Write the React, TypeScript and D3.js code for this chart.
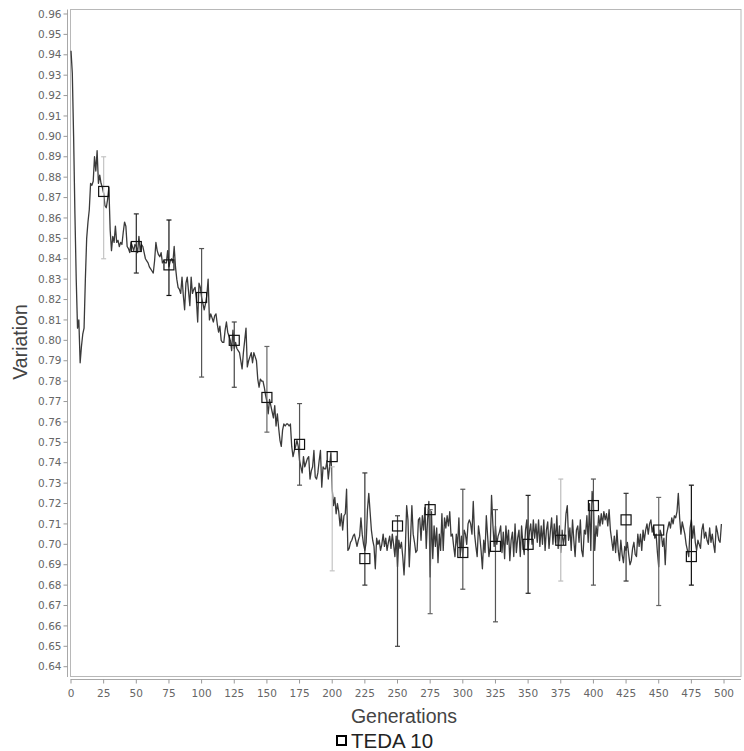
import React from "react";
import * as d3 from "d3";

// Mean variation per generation (index = generation)
const variation: number[] = [
  0.942, 0.931, 0.900, 0.862, 0.830, 0.806, 0.810, 0.789, 0.797, 0.803,
  0.806, 0.830, 0.850, 0.858, 0.864, 0.877, 0.876, 0.878, 0.890, 0.883,
  0.893, 0.877, 0.881, 0.877, 0.875, 0.872, 0.866, 0.865, 0.869, 0.875,
  0.854, 0.844, 0.851, 0.848, 0.856, 0.848, 0.849, 0.846, 0.848, 0.847,
  0.853, 0.858, 0.856, 0.846, 0.845, 0.843, 0.848, 0.846, 0.844, 0.847,
  0.846, 0.843, 0.851, 0.844, 0.847, 0.846, 0.843, 0.840, 0.839, 0.838,
  0.836, 0.835, 0.834, 0.833, 0.839, 0.848, 0.844, 0.842, 0.841, 0.843,
  0.838, 0.839, 0.838, 0.838, 0.844, 0.836, 0.839, 0.840, 0.838, 0.846,
  0.836, 0.830, 0.826, 0.825, 0.823, 0.831, 0.822, 0.815, 0.828, 0.831,
  0.824, 0.817, 0.831, 0.823, 0.825, 0.826, 0.820, 0.809, 0.828, 0.826,
  0.821, 0.818, 0.815, 0.818, 0.822, 0.830, 0.810, 0.813, 0.811, 0.809,
  0.812, 0.813, 0.808, 0.804, 0.807, 0.800, 0.799, 0.799, 0.805, 0.809,
  0.804, 0.802, 0.800, 0.795, 0.805, 0.796, 0.799, 0.796, 0.795, 0.794,
  0.790, 0.786, 0.794, 0.800, 0.806, 0.787, 0.790, 0.792, 0.794, 0.789,
  0.794, 0.792, 0.790, 0.781, 0.777, 0.781, 0.780, 0.780, 0.777, 0.773,
  0.770, 0.764, 0.771, 0.768, 0.765, 0.762, 0.768, 0.758, 0.764, 0.757,
  0.751, 0.748, 0.756, 0.759, 0.758, 0.759, 0.759, 0.758, 0.759, 0.748,
  0.743, 0.746, 0.748, 0.751, 0.748, 0.741, 0.738, 0.735, 0.743, 0.738,
  0.740, 0.742, 0.743, 0.732, 0.736, 0.738, 0.746, 0.733, 0.732, 0.735,
  0.741, 0.746, 0.728, 0.738, 0.737, 0.737, 0.741, 0.732, 0.738, 0.745,
  0.727, 0.719, 0.723, 0.715, 0.720, 0.716, 0.709, 0.715, 0.707, 0.714,
  0.715, 0.727, 0.697, 0.698, 0.701, 0.702, 0.704, 0.705, 0.702, 0.699,
  0.702, 0.704, 0.713, 0.705, 0.700, 0.697, 0.701, 0.717, 0.725, 0.716,
  0.707, 0.702, 0.699, 0.688, 0.703, 0.700, 0.702, 0.697, 0.700, 0.705,
  0.699, 0.703, 0.697, 0.701, 0.704, 0.698, 0.705, 0.700, 0.694, 0.704,
  0.689, 0.702, 0.698, 0.701, 0.694, 0.685, 0.698, 0.719, 0.712, 0.689,
  0.703, 0.719, 0.705, 0.701, 0.696, 0.697, 0.712, 0.713, 0.702, 0.714,
  0.707, 0.718, 0.698, 0.712, 0.721, 0.684, 0.716, 0.693, 0.709, 0.699,
  0.708, 0.691, 0.705, 0.697, 0.715, 0.697, 0.713, 0.708, 0.714, 0.709,
  0.716, 0.704, 0.705, 0.699, 0.694, 0.705, 0.699, 0.713, 0.694, 0.704,
  0.694, 0.707, 0.705, 0.700, 0.710, 0.712, 0.710, 0.705, 0.721, 0.705,
  0.699, 0.694, 0.709, 0.704, 0.697, 0.688, 0.702, 0.696, 0.714, 0.704,
  0.694, 0.699, 0.724, 0.710, 0.699, 0.709, 0.700, 0.704, 0.706, 0.709,
  0.696, 0.706, 0.693, 0.709, 0.700, 0.707, 0.692, 0.702, 0.706, 0.694,
  0.710, 0.696, 0.703, 0.707, 0.694, 0.709, 0.700, 0.695, 0.707, 0.712,
  0.697, 0.706, 0.710, 0.700, 0.712, 0.703, 0.710, 0.701, 0.712, 0.699,
  0.709, 0.700, 0.712, 0.697, 0.707, 0.711, 0.698, 0.706, 0.713, 0.700,
  0.710, 0.701, 0.714, 0.698, 0.709, 0.696, 0.707, 0.700, 0.704, 0.715,
  0.719, 0.702, 0.708, 0.697, 0.712, 0.702, 0.694, 0.707, 0.709, 0.701,
  0.712, 0.697, 0.694, 0.707, 0.705, 0.714, 0.701, 0.720, 0.697, 0.726,
  0.720, 0.697, 0.709, 0.704, 0.714, 0.709, 0.715, 0.710, 0.716, 0.712,
  0.715, 0.709, 0.717, 0.707, 0.702, 0.697, 0.704, 0.696, 0.707, 0.697,
  0.692, 0.702, 0.695, 0.691, 0.699, 0.697, 0.701, 0.695, 0.690, 0.692,
  0.698, 0.701, 0.695, 0.694, 0.705, 0.699, 0.705, 0.697, 0.707, 0.702,
  0.707, 0.710, 0.705, 0.710, 0.712, 0.706, 0.709, 0.703, 0.705, 0.696,
  0.689, 0.707, 0.705, 0.699, 0.703, 0.690, 0.705, 0.708, 0.711, 0.708,
  0.713, 0.710, 0.714, 0.713, 0.716, 0.725, 0.713, 0.705, 0.711, 0.708,
  0.705, 0.700, 0.697, 0.694, 0.708, 0.712, 0.703, 0.709, 0.701, 0.697,
  0.702, 0.700, 0.698, 0.707, 0.710, 0.703, 0.706, 0.702, 0.700, 0.708,
  0.701, 0.705, 0.700, 0.696, 0.709, 0.706, 0.702, 0.701, 0.710,
];

// Sampled generations with mean marker and deviation range
const markerGenerations = [25, 50, 75, 100, 125, 150, 175, 200, 225, 250, 275, 300, 325, 350, 375, 400, 425, 450, 475];
const markerMeans = [0.873, 0.846, 0.837, 0.821, 0.800, 0.772, 0.749, 0.743, 0.693, 0.709, 0.717, 0.696, 0.699, 0.700, 0.702, 0.719, 0.712, 0.707, 0.694];
const barUpper = [0.890, 0.862, 0.859, 0.845, 0.809, 0.797, 0.769, 0.738, 0.735, 0.714, 0.717, 0.727, 0.717, 0.724, 0.732, 0.732, 0.725, 0.723, 0.729];
const barLower = [0.840, 0.833, 0.822, 0.782, 0.777, 0.755, 0.729, 0.687, 0.680, 0.650, 0.666, 0.678, 0.662, 0.676, 0.682, 0.680, 0.682, 0.670, 0.680];

const xTickValues = d3.range(0, 501, 25);
const yTickValues = d3.range(64, 97).map((d) => d / 100);

const seriesName = "TEDA 10";
const xTitle = "Generations";
const yTitle = "Variation";

// Stroke shade of each deviation bar
const barShades = ["#c4c4c4", "#2a2a2a", "#111", "#555", "#444", "#666", "#555", "#c4c4c4", "#333", "#444", "#666", "#555", "#555", "#222", "#bdbdbd", "#555", "#333", "#666", "#111"];

const W = 744;
const H = 751;
const plot = { left: 70.5, right: 741, top: 9.5, bottom: 676.5 };

export default function App() {
  const x = d3.scaleLinear().domain([0, 513]).range([71, 741]);
  const y = d3.scaleLinear().domain([0.6352, 0.9622]).range([plot.bottom, plot.top]);

  const line = d3
    .line<number>()
    .x((_, i) => x(i))
    .y((d) => y(d));

  const tickFont = "'DejaVu Sans', Verdana, sans-serif";
  const titleFont = "'Liberation Sans', Arial, sans-serif";
  const yAxisX = 67.5;
  const xAxisY = 679.5;

  return (
    <svg
      width={W}
      height={H}
      viewBox={`0 0 ${W} ${H}`}
      style={{ position: "absolute", left: 0, top: 0, background: "#fff" }}
    >
      <rect x={0} y={0} width={W} height={H} fill="#fff" />

      {/* plot frame */}
      <rect
        x={plot.left}
        y={plot.top}
        width={plot.right - plot.left}
        height={plot.bottom - plot.top}
        fill="none"
        stroke="#b8b8b8"
        strokeWidth={1}
      />

      {/* y axis */}
      <line x1={yAxisX} x2={yAxisX} y1={plot.top} y2={plot.bottom + 0.5} stroke="#a8a8a8" />
      {yTickValues.map((v) => (
        <g key={v} transform={`translate(0,${y(v)})`}>
          <line x1={yAxisX - 4} x2={yAxisX} y1={0} y2={0} stroke="#999" />
          <text
            x={yAxisX - 6}
            dy="0.35em"
            textAnchor="end"
            fontFamily={tickFont}
            fontSize={10.5}
            fill="#666"
          >
            {d3.format(".2f")(v)}
          </text>
        </g>
      ))}

      {/* x axis */}
      <line x1={plot.left} x2={plot.right} y1={xAxisY} y2={xAxisY} stroke="#a8a8a8" />
      {xTickValues.map((v) => (
        <g key={v} transform={`translate(${x(v)},0)`}>
          <line x1={0} x2={0} y1={xAxisY} y2={xAxisY + 4} stroke="#999" />
          <text
            y={xAxisY + 17}
            textAnchor="middle"
            fontFamily={tickFont}
            fontSize={10.5}
            fill="#666"
          >
            {v}
          </text>
        </g>
      ))}

      {/* series line */}
      <path d={line(variation) ?? ""} fill="none" stroke="#3a3a3a" strokeWidth={1.3} strokeLinejoin="round" />

      {/* deviation bars and mean markers */}
      {markerGenerations.map((g, i) => {
        const cx = x(g);
        const yTop = y(barUpper[i]);
        const yBot = y(barLower[i]);
        const shade = barShades[i];
        return (
          <g key={g}>
            <line x1={cx} x2={cx} y1={yTop} y2={yBot} stroke={shade} strokeWidth={1.2} />
            <line x1={cx - 2.5} x2={cx + 2.5} y1={yTop} y2={yTop} stroke={shade} strokeWidth={1.2} />
            <line x1={cx - 2.5} x2={cx + 2.5} y1={yBot} y2={yBot} stroke={shade} strokeWidth={1.2} />
            <rect
              x={cx - 5}
              y={y(markerMeans[i]) - 5}
              width={10}
              height={10}
              fill="none"
              stroke="#111"
              strokeWidth={1.2}
            />
          </g>
        );
      })}

      {/* axis titles */}
      <text
        x={404}
        y={723}
        textAnchor="middle"
        fontFamily={titleFont}
        fontSize={19.5}
        fill="#444"
      >
        {xTitle}
      </text>
      <text
        transform={`translate(27,342) rotate(-90)`}
        textAnchor="middle"
        fontFamily={titleFont}
        fontSize={19.5}
        fill="#444"
      >
        {yTitle}
      </text>

      {/* legend */}
      <rect x={337} y={736} width={9} height={9} fill="none" stroke="#000" strokeWidth={2} />
      <text x={351} y={747.5} fontFamily={titleFont} fontSize={20.5} fill="#222">
        {seriesName}
      </text>
    </svg>
  );
}
